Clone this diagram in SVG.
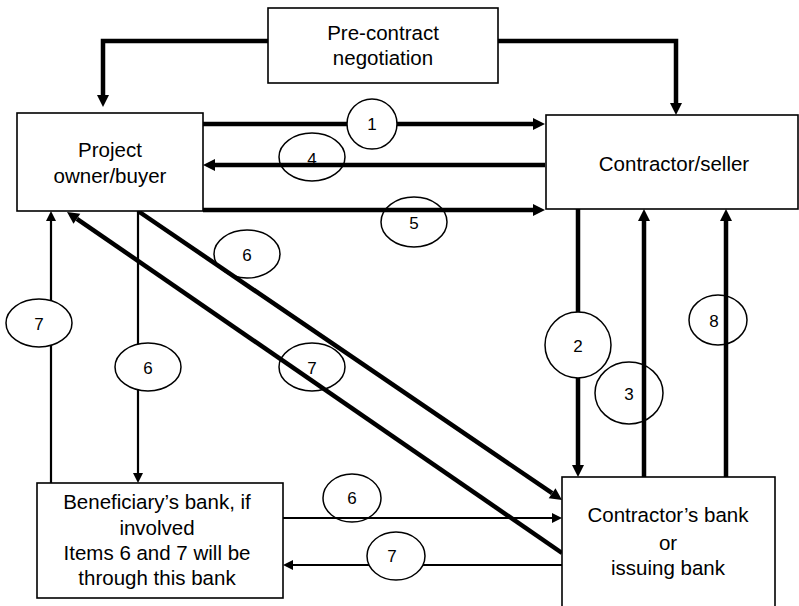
<svg xmlns="http://www.w3.org/2000/svg" width="799" height="606" viewBox="0 0 799 606">
<defs>
<style>
.box{fill:#fff;stroke:#000;stroke-width:1.6}
.lbl{font-family:"Liberation Sans",Arial,sans-serif;font-size:20.5px;fill:#000;text-anchor:middle}
.num{font-family:"Liberation Sans",Arial,sans-serif;font-size:17px;fill:#000;text-anchor:middle}
.thick{fill:none;stroke:#000;stroke-width:4.5}
.thin{fill:none;stroke:#000;stroke-width:2.2}
.ov{fill:none;stroke:#000;stroke-width:1.5}
.ovw{fill:#fff;stroke:#000;stroke-width:1.5}
</style>
<marker id="ah" markerUnits="userSpaceOnUse" markerWidth="12" markerHeight="12" refX="0" refY="6" orient="auto" overflow="visible">
<path d="M0,0 L12,6 L0,12 z" fill="#000"/>
</marker>
<marker id="as" markerUnits="userSpaceOnUse" markerWidth="10" markerHeight="10" refX="0" refY="5" orient="auto" overflow="visible">
<path d="M0,0 L10,5 L0,10 z" fill="#000"/>
</marker>
</defs>
<rect width="799" height="606" fill="#fff"/>

<g id="connectors">
<path class="thick" d="M268,41 H103 V95" marker-end="url(#ah)"/>
<path class="thick" d="M498,41 H676 V103" marker-end="url(#ah)"/>
<line class="thick" x1="203" y1="124" x2="533" y2="124" marker-end="url(#ah)"/>
<line class="thick" x1="545" y1="165" x2="215" y2="165" marker-end="url(#ah)"/>
<line class="thick" x1="203" y1="210" x2="533" y2="210" marker-end="url(#ah)"/>
<line class="thick" x1="578" y1="209" x2="578" y2="465" marker-end="url(#ah)"/>
<line class="thick" x1="644" y1="477" x2="644" y2="221" marker-end="url(#ah)"/>
<line class="thick" x1="726" y1="477" x2="726" y2="221" marker-end="url(#ah)"/>
<line class="thick" x1="138" y1="211" x2="552.1" y2="493.2" marker-end="url(#ah)"/>
<line class="thick" x1="562" y1="553" x2="76.9" y2="218.8" marker-end="url(#ah)"/>
<line class="thin" x1="51" y1="483" x2="51" y2="221" marker-end="url(#as)"/>
<line class="thin" x1="138" y1="211" x2="138" y2="473" marker-end="url(#as)"/>
<line class="thin" x1="283" y1="518" x2="552" y2="518" marker-end="url(#as)"/>
<line class="thin" x1="562" y1="565" x2="293" y2="565" marker-end="url(#as)"/>
</g>

<g id="labels">
<g id="c1"><ellipse class="ovw" cx="372" cy="124" rx="25" ry="25"/><text class="num" x="372" y="130">1</text></g>
<g id="c4"><ellipse class="ov" cx="312" cy="157" rx="33" ry="24"/><text class="num" x="312" y="165">4</text></g>
<g id="c5"><ellipse class="ov" cx="414" cy="222" rx="33" ry="25"/><text class="num" x="414" y="229">5</text></g>
<g id="c2"><ellipse class="ovw" cx="578" cy="345" rx="33" ry="33"/><text class="num" x="578" y="352">2</text></g>
<g id="c3"><ellipse class="ov" cx="629" cy="393" rx="34" ry="31"/><text class="num" x="629" y="400">3</text></g>
<g id="c8"><ellipse class="ov" cx="718" cy="320" rx="29" ry="25"/><text class="num" x="714" y="327">8</text></g>
<g id="c7a"><ellipse class="ovw" cx="39" cy="323" rx="33" ry="24"/><text class="num" x="39" y="330">7</text></g>
<g id="c6a"><ellipse class="ovw" cx="148" cy="367" rx="33" ry="24"/><text class="num" x="148" y="374">6</text></g>
<g id="c6b"><ellipse class="ov" cx="247" cy="254" rx="33" ry="24"/><text class="num" x="247" y="261">6</text></g>
<g id="c7b"><ellipse class="ov" cx="312" cy="367" rx="33" ry="24"/><text class="num" x="312" y="374">7</text></g>
<g id="c6c"><ellipse class="ov" cx="352" cy="498" rx="29" ry="24"/><text class="num" x="352" y="504">6</text></g>
<g id="c7c"><ellipse class="ovw" cx="396" cy="556" rx="29" ry="24"/><text class="num" x="392" y="562">7</text></g>
</g>

<g id="precontract">
<rect class="box" x="268" y="8" width="230" height="75"/>
<text class="lbl" x="383" y="40">Pre-contract</text>
<text class="lbl" x="383" y="65">negotiation</text>
</g>
<g id="owner">
<rect class="box" x="17" y="113" width="186" height="98"/>
<text class="lbl" x="110" y="157">Project</text>
<text class="lbl" x="110" y="183">owner/buyer</text>
</g>
<g id="contractor">
<rect class="box" x="546" y="115" width="252" height="94"/>
<text class="lbl" x="674" y="171">Contractor/seller</text>
</g>
<g id="beneficiary-bank">
<rect class="box" x="37" y="483" width="246" height="115"/>
<text class="lbl" x="157" y="509">Beneficiary’s bank, if</text>
<text class="lbl" x="157" y="535">involved</text>
<text class="lbl" x="157" y="560">Items 6 and 7 will be</text>
<text class="lbl" x="157" y="585">through this bank</text>
</g>
<g id="contractor-bank">
<rect class="box" x="562" y="477" width="213" height="140"/>
<text class="lbl" x="668" y="522">Contractor’s bank</text>
<text class="lbl" x="668" y="550">or</text>
<text class="lbl" x="668" y="575">issuing bank</text>
</g>
</svg>
